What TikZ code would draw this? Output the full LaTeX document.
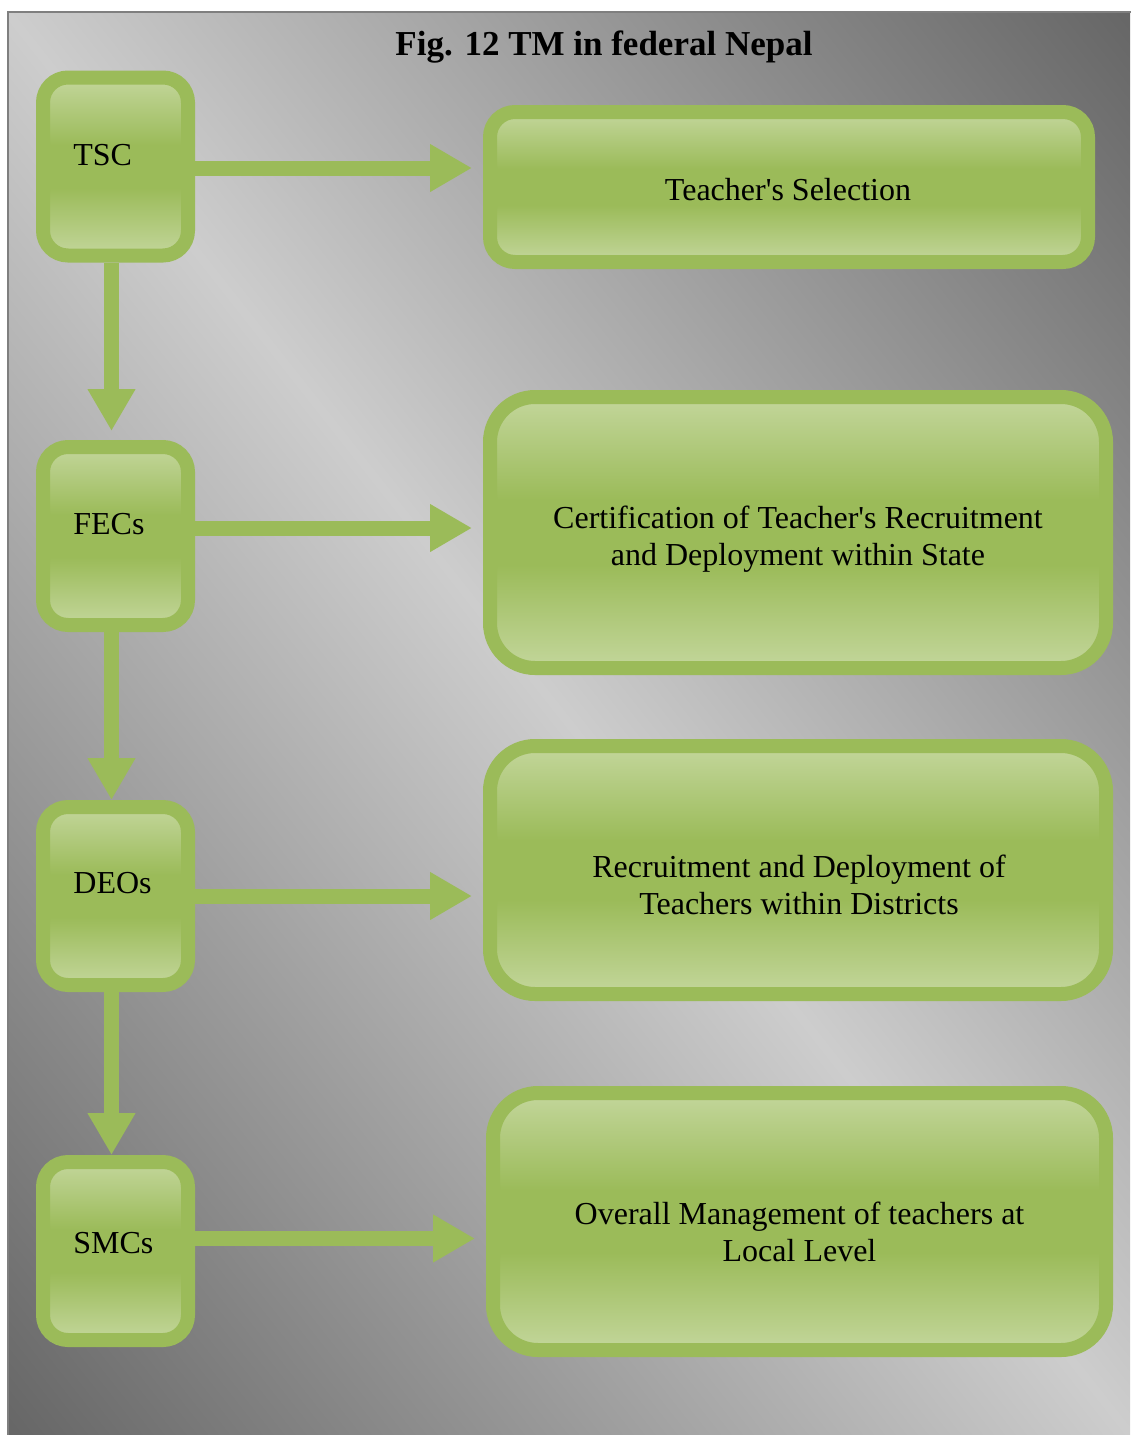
\documentclass[tikz,border=0pt]{standalone}
\usepackage{fontspec}
\setmainfont{Liberation Serif}
\usepackage{tikz}
\usetikzlibrary{arrows.meta}

\definecolor{boxgreen}{HTML}{9BBB59}
\definecolor{boxlight}{HTML}{C3D69B}
\definecolor{bgdark}{HTML}{666666}
\definecolor{bglight}{HTML}{CDCDCD}
\definecolor{framegray}{HTML}{7F7F7F}

\pgfdeclareverticalshading{boxshade}{100bp}{color(0bp)=(boxlight); color(25bp)=(boxlight); color(44bp)=(boxgreen); color(56bp)=(boxgreen); color(75bp)=(boxlight); color(100bp)=(boxlight)}

\tikzset{
	lbox/.style={draw=boxgreen, line width=7pt, rounded corners=12.5pt, shading=boxshade, minimum width=72.5pt, minimum height=89pt, inner sep=0pt},
	rbox/.style={draw=boxgreen, line width=7pt, rounded corners=22.5pt, shading=boxshade, inner sep=0pt},
	flow/.style={draw=boxgreen, line width=7.5pt, -{Triangle[length=21pt,width=22.5pt]}},
	lbl/.style={font=\fontsize{16}{18.5}\selectfont, inner sep=0pt}
}

\begin{document}
\begin{tikzpicture}[x=0.5pt,y=-0.5pt]
		\useasboundingbox (0,0) rectangle (1130,1435);
		\fill[white] (0,0) rectangle (1130,1435);
		\begin{scope}
			\clip (7,11) rectangle (1130,1435);
			\shade[transform canvas={rotate around={38.3:(568.5,723)}}, left color=bgdark, right color=bgdark, middle color=bglight] (-313.5,-277) rectangle (1450.5,1723);
		\end{scope}
		\draw[framegray, line width=1pt] (8,12) rectangle (1140,1445);
		\node[font=\bfseries\fontsize{17.5}{21}\selectfont, anchor=base, inner sep=0pt] (T) at (604,55) {Fig. 12 TM in federal Nepal};
		\node[lbox] (B1) at (115.5,166.5) {};
		\node[lbox] (B2) at (115.5,536) {};
		\node[lbox] (B3) at (115.5,896) {};
		\node[lbox] (B4) at (115.5,1251) {};
		\node[rbox, rounded corners=12.5pt, minimum width=299pt, minimum height=75pt] (R1) at (789,187) {};
		\node[rbox, minimum width=308pt, minimum height=135.5pt] (R2) at (798,532.5) {};
		\node[rbox, minimum width=308pt, minimum height=124pt] (R3) at (798,870) {};
		\node[rbox, minimum width=306.5pt, minimum height=128.5pt] (R4) at (799.5,1221.5) {};
		\node[lbl, anchor=base west] (L1) at (73,165) {TSC};
		\node[lbl, anchor=base west] (L2) at (73,534) {FECs};
		\node[lbl, anchor=base west] (L3) at (73,893) {DEOs};
		\node[lbl, anchor=base west] (L4) at (73,1253) {SMCs};
		\node[lbl, anchor=base] (M1) at (788,200) {Teacher\textquotesingle s Selection};
		\node[lbl, align=center] (M2) at (798,539) {Certification of Teacher\textquotesingle s Recruitment\\and Deployment within State};
		\node[lbl, align=center] (M3) at (799,885) {Recruitment and Deployment of\\Teachers within Districts};
		\node[lbl, align=center] (M4) at (799.5,1231.5) {Overall Management of teachers at\\Local Level};
		\coordinate (A1) at ([yshift=-0.75pt]B1.east);
		\coordinate (A2) at ([yshift=4pt]B2.east);
		\coordinate (A3) at (B3.east);
		\coordinate (A4) at ([yshift=6.25pt]B4.east);
		\draw[flow, shorten >=5.5pt] (A1) -- (A1 -| R1.west);
		\draw[flow, shorten >=5.5pt] (A2) -- (A2 -| R2.west);
		\draw[flow, shorten >=5.5pt] (A3) -- (A3 -| R3.west);
		\draw[flow, shorten >=5.5pt] (A4) -- (A4 -| R4.west);
		\draw[flow, shorten >=4.5pt] ([xshift=-2pt]B1.south) -- ([xshift=-2pt]B2.north);
		\draw[flow] ([xshift=-2pt]B2.south) -- ([xshift=-2pt]B3.north);
		\draw[flow] ([xshift=-2pt]B3.south) -- ([xshift=-2pt]B4.north);
\end{tikzpicture}
\end{document}
